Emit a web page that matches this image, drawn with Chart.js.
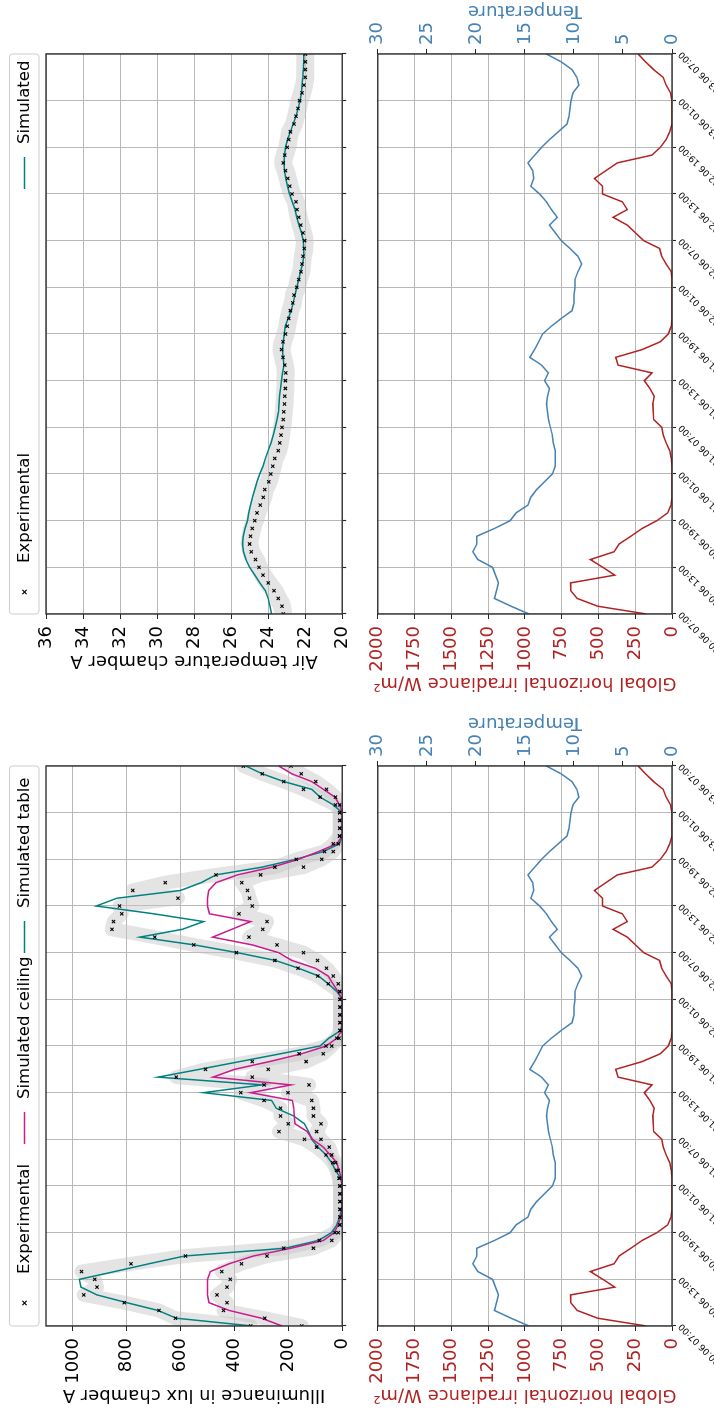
<!DOCTYPE html>
<html>
<head>
<meta charset="utf-8">
<script src="https://cdn.jsdelivr.net/npm/chart.js@4.4.1/dist/chart.umd.min.js"></script>
<style>
  html, body { margin: 0; padding: 0; background: #fff; }
  body { width: 714px; height: 1409px; overflow: hidden; position: relative; }
  /* the figure is laid out landscape and turned a quarter turn */
  #figure {
    position: absolute; left: 0; top: 0;
    width: 1409px; height: 714px;
    transform-origin: 0 0;
    transform: translate(0, 1409px) rotate(-90deg);
    background: #fff;
  }
  #figure canvas { position: absolute; }
</style>
</head>
<body>
<div id="figure">
  <canvas id="illum" width="660" height="360" style="left:0;top:0"></canvas>
  <canvas id="airTemp" width="697" height="360" style="left:712px;top:0"></canvas>
  <canvas id="weatherA" width="712" height="354" style="left:0;top:360px"></canvas>
  <canvas id="weatherB" width="697" height="354" style="left:712px;top:360px"></canvas>
</div>
<script>
// hourly samples, 20.06 07:00 -> 23.06 07:00
const timeTicks = ['20.06 07:00', '20.06 13:00', '20.06 19:00', '21.06 01:00', '21.06 07:00',
  '21.06 13:00', '21.06 19:00', '22.06 01:00', '22.06 07:00', '22.06 13:00', '22.06 19:00',
  '23.06 01:00', '23.06 07:00'];
const hours = Array.from({ length: 73 }, (_, i) => i);

// illuminance (lux)
const expTable = [340, 619, 680, 809, 960, 911, 919, 968, 784, 582, 217, 85, 27, 9, 8, 8, 8, 8, 9, 12,
  21, 35, 60, 95, 140, 235, 200, 229, 229, 290, 377, 290, 616, 508, 334, 160, 60, 20, 8, 8,
  8, 8, 8, 9, 52, 91, 164, 250, 393, 551, 696, 855, 849, 819, 827, 610, 778, 657, 469, 250,
  171, 66, 33, 10, 9, 9, 9, 25, 82, 144, 217, 297, 367];
const expCeiling = [150, 288, 441, 428, 465, 428, 416, 447, 374, 279, 107, 39, 15, 8, 8, 8, 8, 8, 8, 10,
  15, 25, 39, 48, 79, 95, 79, 107, 107, 113, 201, 123, 334, 275, 134, 70, 39, 12, 8, 8,
  8, 8, 8, 9, 15, 33, 58, 92, 144, 242, 346, 295, 279, 383, 334, 344, 352, 373, 303, 144,
  76, 33, 15, 9, 9, 9, 9, 9, 25, 58, 98, 152, 190];
const simCeiling = [223, 300, 420, 495, 500, 500, 500, 490, 420, 330, 190, 70, 30, 15, 5, 0, 0, 0, 0, 3,
  12, 20, 45, 70, 110, 130, 175, 178, 180, 185, 340, 190, 480, 400, 270, 150, 60, 20, 2, 0,
  0, 0, 0, 15, 35, 52, 100, 187, 236, 334, 481, 410, 340, 493, 500, 500, 496, 469, 389, 260,
  162, 88, 20, 0, 0, 0, 0, 10, 27, 70, 113, 187, 236];
const simTable = [334, 616, 684, 800, 911, 970, 976, 845, 718, 585, 211, 88, 40, 20, 10, 3, 0, 0, 0, 5,
  25, 39, 60, 90, 113, 125, 140, 180, 245, 262, 515, 297, 684, 530, 380, 230, 82, 50, 5, 0,
  0, 0, 0, 20, 52, 88, 162, 248, 389, 549, 751, 594, 515, 700, 913, 837, 600, 524, 469, 297,
  174, 70, 10, 0, 0, 0, 0, 33, 82, 113, 217, 297, 358];

// air temperature chamber A (degC)
const expAir = [23.19, 23.25, 23.46, 23.68, 24.0, 24.28, 24.5, 24.68, 24.91, 25.0, 24.95, 24.86, 24.72,
  24.6, 24.43, 24.27, 24.18, 23.97, 23.86, 23.75, 23.64, 23.46, 23.37, 23.3, 23.25, 23.19, 23.16,
  23.12, 23.1, 23.07, 23.07, 23.05, 23.1, 23.2, 23.28, 23.2, 23.06, 22.97, 22.89, 22.8, 22.67,
  22.6, 22.45, 22.35, 22.22, 22.17, 22.12, 22.05, 22.03, 22.12, 22.24, 22.35, 22.44, 22.5, 22.71,
  22.83, 22.94, 23.06, 23.19, 23.1, 22.97, 22.89, 22.8, 22.6, 22.5, 22.39, 22.3, 22.17, 22.06,
  22.0, 21.99, 21.99, 21.99];
const simAir = [23.82, 23.9, 24.0, 24.15, 24.45, 24.72, 25.0, 25.2, 25.33, 25.39, 25.35, 25.25, 25.12,
  25.05, 24.95, 24.85, 24.72, 24.6, 24.45, 24.28, 24.15, 24.0, 23.85, 23.72, 23.62, 23.52, 23.44,
  23.42, 23.39, 23.33, 23.28, 23.22, 23.15, 23.2, 23.22, 23.18, 23.13, 23.08, 22.92, 22.75, 22.65,
  22.55, 22.45, 22.35, 22.25, 22.15, 22.08, 22.08, 22.1, 22.2, 22.33, 22.45, 22.55, 22.7, 22.85,
  22.95, 23.05, 23.12, 23.15, 23.12, 23.06, 22.95, 22.8, 22.65, 22.5, 22.38, 22.28, 22.2, 22.17,
  22.13, 22.1, 22.08, 22.08];

// weather: global horizontal irradiance (W/m2) and outdoor temperature (degC)
const ghi = [174, 505, 644, 689, 690, 389, 470, 555, 394, 360, 280, 203, 103, 30, 7, 0, 0, 0, 0, 0,
  5, 15, 40, 60, 69, 125, 128, 130, 121, 150, 188, 136, 367, 383, 203, 80, 25, 5, 0, 0,
  0, 0, 0, 0, 5, 40, 70, 85, 192, 248, 304, 400, 304, 338, 472, 472, 528, 450, 371, 136,
  80, 40, 15, 0, 0, 0, 0, 10, 40, 60, 125, 180, 230];
const outdoorTemp = [14.6, 16.4, 18.1, 17.9, 17.7, 18.0, 18.3, 19.8, 20.3, 19.9, 19.9, 18.1, 16.5, 15.9,
  14.7, 14.4, 13.8, 13.0, 12.2, 11.9, 11.9, 11.9, 12.1, 12.2, 12.4, 12.6, 12.7, 12.8, 12.7, 12.5,
  13.0, 12.6, 13.3, 14.5, 14.0, 13.6, 13.2, 12.3, 11.3, 10.2, 10.0, 10.0, 9.9, 9.9, 9.6, 9.2,
  9.6, 10.4, 11.3, 11.9, 12.5, 11.7, 12.3, 12.8, 13.5, 14.4, 14.1, 14.2, 14.7, 14.0, 13.3, 12.5,
  11.6, 10.7, 10.5, 10.4, 10.3, 10.1, 9.5, 9.7, 10.2, 11.3, 12.8];

const FONT = 'DejaVu Sans';
const TEAL = '#008080';
const MAGENTA = '#cc1a8f';
const RED = '#b22222';
const BLUE = '#4682b4';
const GRID = '#b8b8b8';
const BAND = 'rgba(195, 195, 195, 0.45)';

Chart.defaults.font.family = FONT;
Chart.defaults.color = '#000';
Chart.defaults.animation = false;

// box around the chart area, drawn over the data like axes spines
const frame = {
  id: 'frame',
  afterDatasetsDraw(chart) {
    const { ctx, chartArea: a } = chart;
    ctx.save();
    ctx.strokeStyle = '#262626';
    ctx.lineWidth = 1.3;
    ctx.strokeRect(a.left, a.top, a.right - a.left, a.bottom - a.top);
    ctx.restore();
  }
};

// date labels under the time axis, slanted 45deg, each one ending at its tick
const dateLabels = {
  id: 'dateLabels',
  afterDraw(chart) {
    const { ctx, chartArea: a } = chart;
    const xs = chart.scales.x;
    ctx.save();
    ctx.font = '9px "' + FONT + '"';
    ctx.fillStyle = '#000';
    ctx.textAlign = 'right';
    ctx.textBaseline = 'top';
    xs.ticks.forEach(t => {
      const label = timeTicks[t.value / 6];
      if (label === undefined) return;
      ctx.save();
      ctx.translate(xs.getPixelForValue(t.value) - 2, a.bottom + 5);
      ctx.rotate(-Math.PI / 4);
      ctx.fillText(label, 0, 0);
      ctx.restore();
    });
    ctx.restore();
  }
};

// legend in a rounded box above the plot, columns spread over the full width
function boxLegend(items) {
  return {
    id: 'boxLegend',
    afterDraw(chart) {
      const { ctx, chartArea: a } = chart;
      const top = 9.5, h = 29.5, cy = 24.5;
      ctx.save();
      ctx.beginPath();
      ctx.roundRect(a.left, top, a.right - a.left, h, 3);
      ctx.fillStyle = 'rgba(255,255,255,0.8)';
      ctx.fill();
      ctx.strokeStyle = '#cccccc';
      ctx.lineWidth = 1;
      ctx.stroke();
      items.forEach(it => {
        const x0 = a.left + it.at;
        if (it.cross) {
          const cx = x0 + 16, r = 2.2;
          ctx.strokeStyle = '#000';
          ctx.lineWidth = 1.2;
          ctx.beginPath();
          ctx.moveTo(cx - r, cy - r); ctx.lineTo(cx + r, cy + r);
          ctx.moveTo(cx - r, cy + r); ctx.lineTo(cx + r, cy - r);
          ctx.stroke();
        } else {
          ctx.strokeStyle = it.color;
          ctx.lineWidth = 1.5;
          ctx.beginPath();
          ctx.moveTo(x0, cy); ctx.lineTo(x0 + 32, cy);
          ctx.stroke();
        }
        ctx.fillStyle = '#000';
        ctx.font = '16.5px "' + FONT + '"';
        ctx.textBaseline = 'middle';
        ctx.fillText(it.label, x0 + 45, cy);
      });
      ctx.restore();
    }
  };
}

// right-hand axis title reading bottom to top
function rightTitle(text, color, gap) {
  return {
    id: 'rightTitle',
    afterDraw(chart) {
      const { ctx, chartArea: a } = chart;
      ctx.save();
      ctx.translate(a.right + gap, (a.top + a.bottom) / 2);
      ctx.rotate(-Math.PI / 2);
      ctx.fillStyle = color;
      ctx.font = '18px "' + FONT + '"';
      ctx.textAlign = 'center';
      ctx.textBaseline = 'middle';
      ctx.fillText(text, 0, 0);
      ctx.restore();
    }
  };
}

function timeAxis(height) {
  return {
    type: 'linear',
    min: 0,
    max: 72,
    afterFit: s => { s.height = height; },
    grid: { color: GRID, lineWidth: 1, tickLength: 4, tickColor: '#262626', tickWidth: 1.1 },
    border: { display: false },
    ticks: { stepSize: 6, display: false, autoSkip: false }
  };
}

function valueAxis(opts) {
  return {
    type: 'linear',
    position: opts.position || 'left',
    min: opts.min,
    max: opts.max,
    afterFit: s => { s.width = opts.width; },
    grid: {
      color: GRID, lineWidth: 1, tickLength: 5, tickColor: '#262626',
      drawOnChartArea: opts.grid !== false
    },
    border: { display: false },
    ticks: {
      stepSize: opts.step,
      includeBounds: false,
      padding: opts.position === 'right' ? 4 : 7,
      font: { size: 18 },
      color: opts.color || '#000',
      callback: v => String(v)
    },
    title: opts.title ? {
      display: true,
      text: opts.title,
      color: opts.color || '#000',
      font: { size: 18 },
      padding: { top: opts.titlePad || 4, bottom: 4 }
    } : { display: false }
  };
}

function band(data) {
  return {
    data, borderColor: BAND, borderWidth: 14, pointRadius: 0, fill: false,
    borderJoinStyle: 'round', borderCapStyle: 'round', clip: 0, order: 3
  };
}

function crosses(data) {
  return {
    data, showLine: false, pointStyle: 'crossRot', pointRadius: 2.3, pointBorderWidth: 1.1,
    pointBorderColor: '#000', pointBackgroundColor: '#000', clip: 0, order: 0
  };
}

function curve(data, color, extra) {
  return Object.assign({
    data, borderColor: color, borderWidth: 1.5, pointRadius: 0, fill: false, clip: 0, order: 1
  }, extra || {});
}

const quiet = { legend: { display: false }, tooltip: { enabled: false } };

new Chart(document.getElementById('illum'), {
  type: 'line',
  data: {
    labels: hours,
    datasets: [
      band(expTable), band(expCeiling),
      curve(simCeiling, MAGENTA), curve(simTable, TEAL),
      crosses(expTable), crosses(expCeiling)
    ]
  },
  options: {
    responsive: false,
    layout: { padding: { top: 46, right: 17, left: 0, bottom: 0 } },
    plugins: quiet,
    scales: {
      x: timeAxis(16),
      y: valueAxis({ min: 0, max: 1100, step: 200, width: 83, title: 'Illuminance in lux chamber A' })
    }
  },
  plugins: [frame, boxLegend([
    { at: 7, cross: true, label: 'Experimental' },
    { at: 182, color: MAGENTA, label: 'Simulated ceiling' },
    { at: 373, color: TEAL, label: 'Simulated table' }
  ])]
});

new Chart(document.getElementById('airTemp'), {
  type: 'line',
  data: {
    labels: hours,
    datasets: [
      Object.assign(band(expAir), { borderWidth: 18, tension: 0.4 }),
      curve(simAir, TEAL),
      crosses(expAir)
    ]
  },
  options: {
    responsive: false,
    layout: { padding: { top: 46, right: 54, left: 0, bottom: 0 } },
    plugins: quiet,
    scales: {
      x: timeAxis(16),
      y: valueAxis({ min: 20, max: 36, step: 2, width: 83, titlePad: 26,
        title: 'Air temperature chamber A' })
    }
  },
  plugins: [frame, boxLegend([
    { at: 6, cross: true, label: 'Experimental' },
    { at: 425, color: TEAL, label: 'Simulated' }
  ])]
});

function weatherChart(id, rightWidth) {
  new Chart(document.getElementById(id), {
    type: 'line',
    data: {
      labels: hours,
      datasets: [
        curve(ghi, RED, { yAxisID: 'y' }),
        curve(outdoorTemp, BLUE, { yAxisID: 'y1' })
      ]
    },
    options: {
      responsive: false,
      layout: { padding: { top: 14, right: 0, left: 0, bottom: 0 } },
      plugins: quiet,
      scales: {
        x: timeAxis(42),
        y: valueAxis({ min: 0, max: 2000, step: 250, width: 83, color: RED,
          title: 'Global horizontal irradiance W/m\u00b2' }),
        y1: valueAxis({ position: 'right', min: 0, max: 30, step: 5, width: rightWidth,
          color: BLUE, grid: false })
      }
    },
    plugins: [frame, dateLabels, rightTitle('Temperature', BLUE, 43)]
  });
}

weatherChart('weatherA', 69);
weatherChart('weatherB', 54);
</script>
</body>
</html>
